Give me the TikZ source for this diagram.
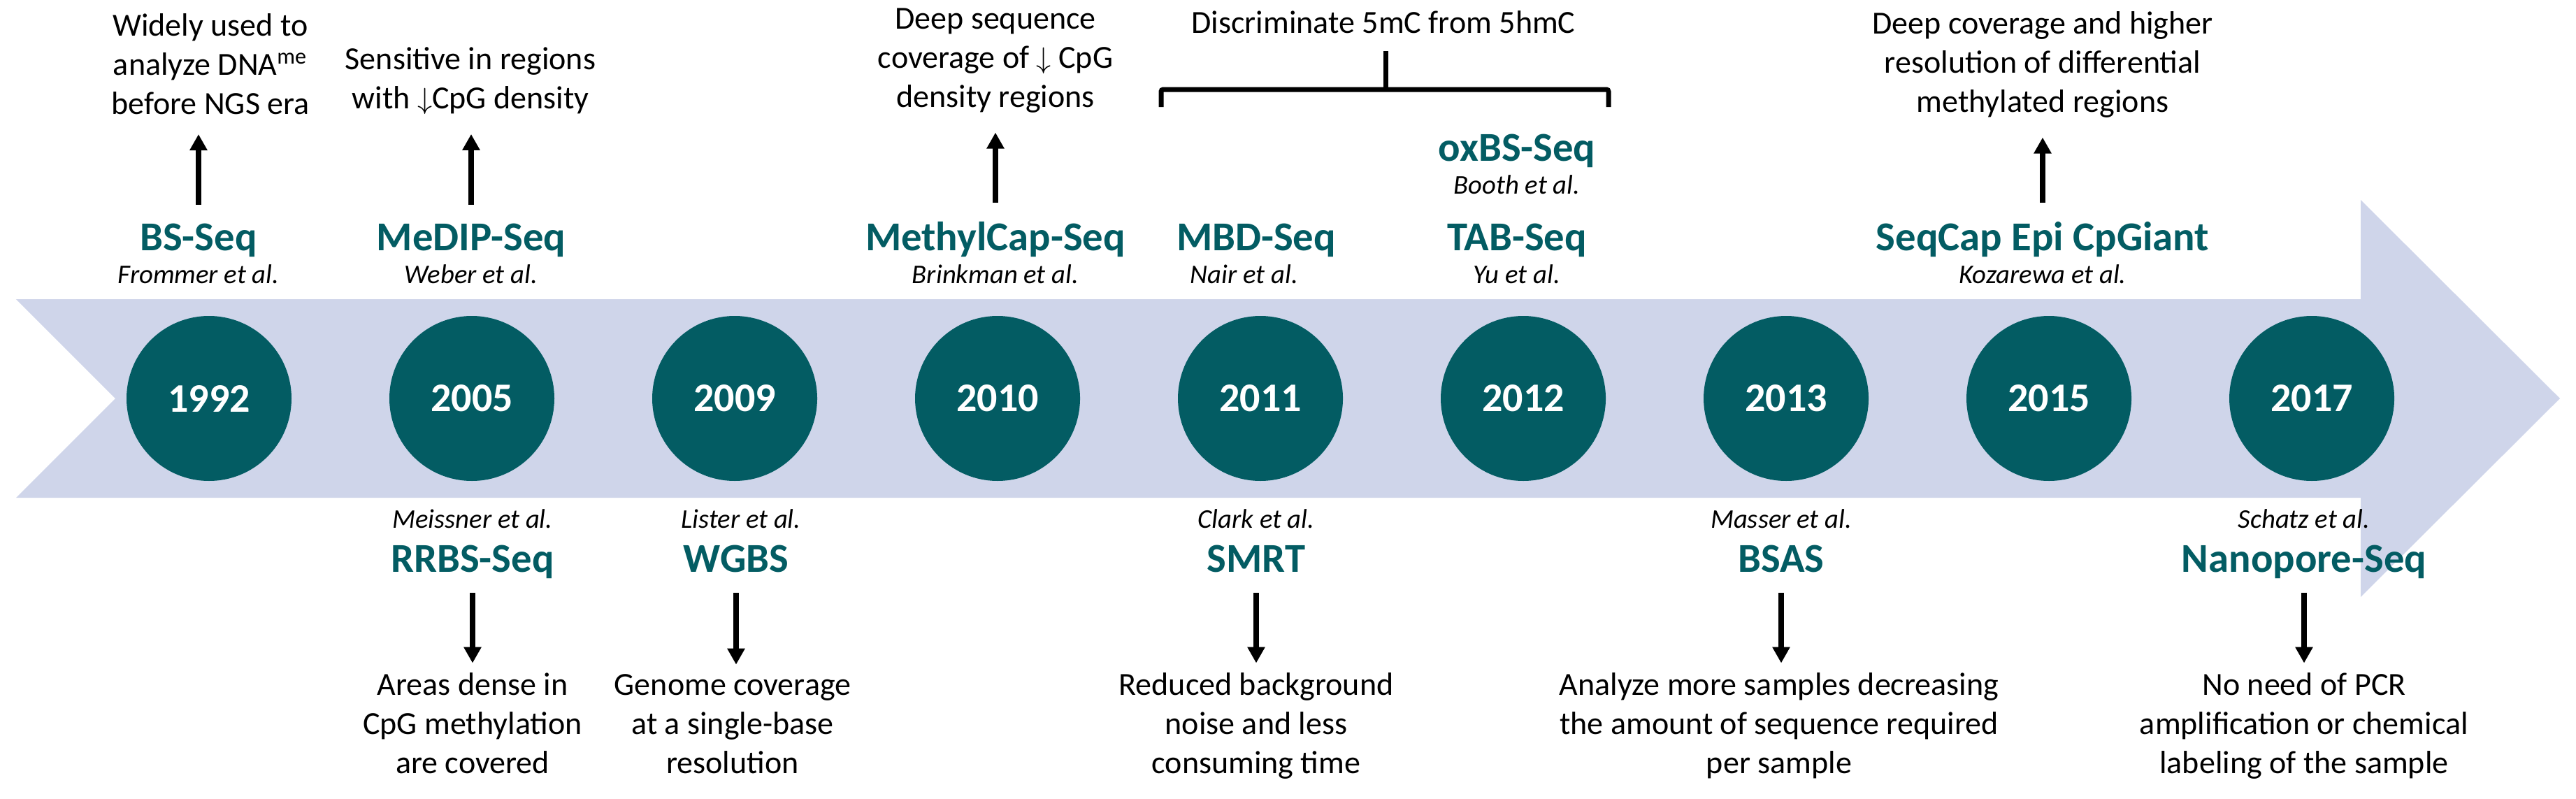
\documentclass[tikz,border=0pt]{standalone}
\usepackage{fontspec}
\setmainfont{Carlito}
\usepackage{tikz}
\usetikzlibrary{positioning,arrows.meta}
\definecolor{bandblue}{RGB}{207,213,234}
\definecolor{tealdark}{RGB}{3,92,99}
\newcommand{\yearfnt}{\fontsize{16.5}{20}\selectfont\bfseries}
\newcommand{\methfnt}{\fontsize{16.7}{20}\selectfont\bfseries}
\newcommand{\authfnt}{\fontsize{11}{13}\selectfont\itshape}
\newcommand{\descfnt}{\fontsize{13.1}{15.9}\selectfont}

\begin{document}
\begin{tikzpicture}[auto,node distance=1.386cm,
  year/.style={circle,fill=tealdark,text=white,font=\yearfnt,minimum size=2.36cm,inner sep=0pt},
  method/.style={text=tealdark,font=\methfnt,inner sep=0pt,anchor=base},
  author/.style={font=\authfnt,inner sep=0pt,anchor=base},
  info/.style={font=\descfnt,align=center,inner sep=0pt,anchor=base},
  upline/.style={-{Triangle[width=0.24cm,length=0.23cm]},line width=0.08cm,shorten <=0.26cm,shorten >=0.28cm},
  downline/.style={-{Triangle[width=0.24cm,length=0.23cm]},line width=0.08cm,shorten <=0.30cm,shorten >=0.13cm},
  bracket/.style={line width=0.07cm,rounded corners=0.03cm}]
  \useasboundingbox (0,0) rectangle (36.85,-11.43);

  \fill[bandblue] (0.23,-4.28) -- (33.77,-4.28) -- (33.77,-2.86) -- (36.62,-5.70)
    -- (33.77,-8.54) -- (33.77,-7.12) -- (0.23,-7.12) -- (1.65,-5.70) -- cycle;

  \node[year] (year1) at (2.99,-5.70) {1992};
  \node[year] (year2) [right=of year1] {2005};
  \node[year] (year3) [right=of year2] {2009};
  \node[year] (year4) [right=of year3] {2010};
  \node[year] (year5) [right=of year4] {2011};
  \node[year] (year6) [right=of year5] {2012};
  \node[year] (year7) [right=of year6] {2013};
  \node[year] (year8) [right=of year7] {2015};
  \node[year] (year9) [right=of year8] {2017};

  \node[method] (meth1) at (2.84,-3.58) {BS-Seq};
  \node[author] (auth1) [below=0.47cm of meth1.base,anchor=base] {Frommer et al.};
  \node[info] (desc1) at (3.01,-1.63) {Widely used to\\analyze DNA\textsuperscript{me}\\before NGS era};
  \node[method] (meth2) at (6.74,-3.58) {MeDIP-Seq};
  \node[author] (auth2) [below=0.47cm of meth2.base,anchor=base] {Weber et al.};
  \node[info] (desc2) at (6.73,-1.55) {Sensitive in regions\\with $\downarrow$CpG density};
  \node[method] (meth4) at (14.24,-3.58) {MethylCap-Seq};
  \node[author] (auth4) [below=0.47cm of meth4.base,anchor=base] {Brinkman et al.};
  \node[info] (desc4) at (14.24,-1.53) {Deep sequence\\coverage of $\downarrow$ CpG\\density regions};
  \node[method] (meth5) at (17.97,-3.58) {MBD-Seq};
  \node[author] (auth5) [below=0.47cm of meth5.base,anchor=base,xshift=-0.17cm] {Nair et al.};
  \node[method] (meth6) at (21.70,-3.58) {TAB-Seq};
  \node[author] (auth6) [below=0.47cm of meth6.base,anchor=base] {Yu et al.};
  \node[method] (meth6b) at (21.70,-2.30) {oxBS-Seq};
  \node[author] (auth6b) [below=0.47cm of meth6b.base,anchor=base] {Booth et al.};
  \node[info] (discr) at (19.79,-0.47) {Discriminate 5mC from 5hmC};
  \node[method] (meth8) at (29.22,-3.58) {SeqCap Epi CpGiant};
  \node[author] (auth8) [below=0.47cm of meth8.base,anchor=base] {Kozarewa et al.};
  \node[info] (desc8) at (29.22,-1.60) {Deep coverage and higher\\resolution of differential\\methylated regions};

  \node[method] (meth2b) at (6.76,-8.18) {RRBS-Seq};
  \node[author] (auth2b) [above=0.63cm of meth2b.base,anchor=base] {Meissner et al.};
  \node[info] (desc2b) at (6.76,-11.06) {Areas dense in\\CpG methylation\\are covered};
  \node[method] (meth3) at (10.53,-8.18) {WGBS};
  \node[author] (auth3) [above=0.63cm of meth3.base,anchor=base,xshift=0.07cm] {Lister et al.};
  \node[info] (desc3) at (10.48,-11.06) {Genome coverage\\at a single-base\\resolution};
  \node[method] (meth5b) at (17.97,-8.18) {SMRT};
  \node[author] (auth5b) [above=0.63cm of meth5b.base,anchor=base] {Clark et al.};
  \node[info] (desc5b) at (17.97,-11.06) {Reduced background\\noise and less\\consuming time};
  \node[method] (meth7) at (25.48,-8.18) {BSAS};
  \node[author] (auth7) [above=0.63cm of meth7.base,anchor=base] {Masser et al.};
  \node[info] (desc7) at (25.45,-11.06) {Analyze more samples decreasing\\the amount of sequence required\\per sample};
  \node[method] (meth9) at (32.96,-8.18) {Nanopore-Seq};
  \node[author] (auth9) [above=0.63cm of meth9.base,anchor=base] {Schatz et al.};
  \node[info] (desc9) at (32.96,-11.06) {No need of PCR\\amplification or chemical\\labeling of the sample};

  \draw[upline] (meth1.north) -- (meth1.north |- desc1.south);
  \draw[upline] (meth2.north) -- (meth2.north |- desc2.south);
  \draw[upline] (meth4.north) -- (meth4.north |- desc4.south);
  \draw[upline] (meth8.north) -- (meth8.north |- desc8.south);
  \draw[downline] (meth2b.base) -- (meth2b.base |- desc2b.north);
  \draw[downline] (meth3.base) -- (meth3.base |- desc3.north);
  \draw[downline] (meth5b.base) -- (meth5b.base |- desc5b.north);
  \draw[downline] (meth7.base) -- (meth7.base |- desc7.north);
  \draw[downline] (meth9.base) -- (meth9.base |- desc9.north);

  \coordinate (brl) at (16.61,-1.53);
  \coordinate (brr) at (23.01,-1.53);
  \coordinate (brm) at (19.82,-1.28);
  \draw[bracket] (brl) |- (brm) -| (brr);
  \draw[bracket,shorten <=0.25cm] (discr.south -| brm) -- (brm);
\end{tikzpicture}
\end{document}
